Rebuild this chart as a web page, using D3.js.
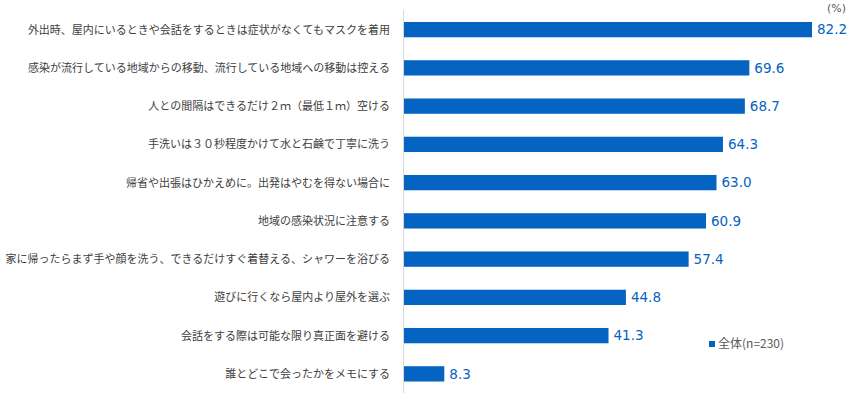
<!DOCTYPE html>
<html><head><meta charset="utf-8">
<script src="https://cdn.jsdelivr.net/npm/d3@7"></script>
<style>body{margin:0;background:#fff;}svg{display:block;}</style>
</head><body>
<script>
const categories = [
  "外出時、屋内にいるときや会話をするときは症状がなくてもマスクを着用",
  "感染が流行している地域からの移動、流行している地域への移動は控える",
  "人との間隔はできるだけ２ｍ（最低１ｍ）空ける",
  "手洗いは３０秒程度かけて水と石鹸で丁寧に洗う",
  "帰省や出張はひかえめに。出発はやむを得ない場合に",
  "地域の感染状況に注意する",
  "家に帰ったらまず手や顔を洗う、できるだけすぐ着替える、シャワーを浴びる",
  "遊びに行くなら屋内より屋外を選ぶ",
  "会話をする際は可能な限り真正面を避ける",
  "誰とどこで会ったかをメモにする"
];
const values = [82.2, 69.6, 68.7, 64.3, 63.0, 60.9, 57.4, 44.8, 41.3, 8.3];
const seriesName = "全体(n=230)";
const unitLabel = "(%)";

const W = 850, H = 393;
const blue = "#0563C1";
const svg = d3.select("body").append("svg").attr("width", W).attr("height", H);

const x = d3.scaleLinear().domain([0, 100]).range([403, 900.6]);
const y = d3.scaleBand().domain(categories).range([10.5, 393]).paddingInner(0.6).paddingOuter(0.3);

svg.append("line").attr("x1", 403.5).attr("x2", 403.5).attr("y1", 10).attr("y2", H)
  .attr("stroke", "#d9d9d9").attr("stroke-width", 1);

svg.selectAll("rect.bar").data(values).join("rect").attr("class", "bar")
  .attr("x", x(0) + 1)
  .attr("y", (d, i) => y(categories[i]))
  .attr("width", d => x(d) - x(0) - 1)
  .attr("height", y.bandwidth())
  .attr("fill", blue);

svg.selectAll("text.cat").data(categories).join("text").attr("class", "cat")
  .attr("x", 390).attr("y", d => y(d) + y.bandwidth() / 2)
  .attr("dy", "0.36em").attr("text-anchor", "end")
  .attr("font-family", "'Noto Sans CJK JP', sans-serif").attr("font-size", 11)
  .attr("fill", "#404040").text(d => d);

svg.selectAll("text.val").data(values).join("text").attr("class", "val")
  .attr("x", d => x(d) + 5).attr("y", (d, i) => y(categories[i]) + y.bandwidth() / 2)
  .attr("dy", "0.36em")
  .attr("font-family", "'DejaVu Sans', sans-serif").attr("font-size", 13.5)
  .attr("fill", blue).text(d => d.toFixed(1));

svg.append("text").attr("x", 846).attr("y", 12).attr("text-anchor", "end")
  .attr("font-family", "'DejaVu Sans', sans-serif").attr("font-size", 11)
  .attr("fill", "#595959").text(unitLabel);

const lg = svg.append("g");
lg.append("rect").attr("x", 709).attr("y", 341).attr("width", 6).attr("height", 6).attr("fill", blue);
lg.append("text").attr("x", 718).attr("y", 344).attr("dy", "0.36em")
  .attr("font-family", "'Noto Sans CJK JP', sans-serif").attr("font-size", 12)
  .attr("fill", "#595959").text(seriesName);
</script>
</body></html>
